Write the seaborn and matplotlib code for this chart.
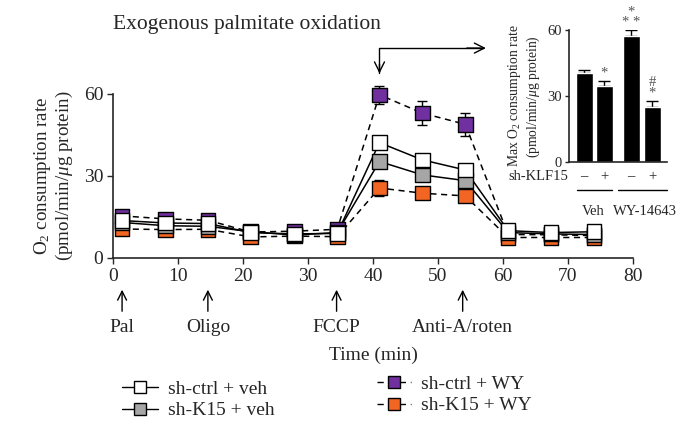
import numpy as np
import pandas as pd
import matplotlib
matplotlib.use('Agg')
import matplotlib.pyplot as plt
from matplotlib.lines import Line2D
import seaborn as sns

# time points (min) and O2 consumption rate per group
time = [1.4, 8.1, 14.6, 21.2, 27.9, 34.5, 41.0, 47.6, 54.2, 60.8, 67.4, 74.0]
ctrl_veh = [13.7, 12.8, 12.6, 9.3, 8.8, 9.0, 42.2, 35.9, 32.2, 10.0, 9.3, 9.6]
k15_veh = [13.0, 11.8, 11.6, 9.6, 8.4, 9.3, 35.3, 30.4, 28.3, 9.3, 8.8, 8.6]
ctrl_wy = [15.4, 14.3, 13.8, 9.5, 9.8, 10.5, 59.7, 53.0, 48.9, 8.6, 8.5, 8.2]
k15_wy = [10.6, 10.4, 10.5, 7.7, 8.0, 7.8, 25.6, 23.7, 22.7, 7.5, 7.5, 7.5]
err_ctrl_veh = [1.2, 1.0, 1.0, 0.8, 0.8, 0.8, 1.5, 1.5, 1.5, 0.8, 0.8, 0.8]
err_k15_veh = [1.2, 1.0, 1.0, 0.8, 0.8, 0.8, 2.0, 1.8, 1.8, 0.8, 0.8, 0.8]
err_ctrl_wy = [1.2, 1.0, 1.0, 0.8, 0.8, 0.8, 3.3, 4.3, 4.2, 0.8, 0.8, 0.8]
err_k15_wy = [1.2, 1.0, 1.0, 0.8, 0.8, 0.8, 2.9, 2.2, 2.0, 0.8, 0.8, 0.8]

groups = ['sh-ctrl + veh', 'sh-K15 + veh', 'sh-ctrl + WY', 'sh-K15 + WY']
colors = {'sh-ctrl + veh': '#ffffff', 'sh-K15 + veh': '#a6a6a6',
          'sh-ctrl + WY': '#7030a0', 'sh-K15 + WY': '#f26522'}
draw_order = ['sh-ctrl + WY', 'sh-K15 + WY', 'sh-K15 + veh', 'sh-ctrl + veh']

# injections
inj_time = [1.4, 14.6, 34.4, 53.8]
inj_label = ['Pal', 'Oligo', 'FCCP', 'Anti-A/roten']

# inset: max O2 consumption
bar_pos = [0, 1, 2.35, 3.4]
bar_vals = [40.4, 34.7, 57.4, 25.0]
bar_err = [1.5, 2.2, 2.7, 3.0]
bar_signs = ['\u2013', '+', '\u2013', '+']
bar_marks = ['', '*', '*\n* *', '#\n*']

vals = {'sh-ctrl + veh': ctrl_veh, 'sh-K15 + veh': k15_veh,
        'sh-ctrl + WY': ctrl_wy, 'sh-K15 + WY': k15_wy}
errs = {'sh-ctrl + veh': err_ctrl_veh, 'sh-K15 + veh': err_k15_veh,
        'sh-ctrl + WY': err_ctrl_wy, 'sh-K15 + WY': err_k15_wy}

df = pd.concat([pd.DataFrame({'time': time, 'rate': vals[g], 'err': errs[g], 'group': g})
                for g in draw_order], ignore_index=True)

sns.set_style('ticks')
plt.rcParams['font.family'] = ['Liberation Serif', 'DejaVu Serif']
plt.rcParams['mathtext.fontset'] = 'custom'
plt.rcParams['mathtext.rm'] = 'Liberation Serif'
plt.rcParams['mathtext.it'] = 'Liberation Serif:italic'
plt.rcParams['mathtext.bf'] = 'Liberation Serif:bold'

fs = 14

fig = plt.figure(figsize=(6.86, 4.38), dpi=100)
ax = fig.add_axes([0.1647, 0.4110, 0.758, 0.3744])

dash_map = {'sh-ctrl + veh': '', 'sh-K15 + veh': '',
            'sh-ctrl + WY': (4, 3), 'sh-K15 + WY': (4, 3)}
sns.lineplot(data=df, x='time', y='rate', style='group', style_order=draw_order,
             dashes=dash_map, color='black', linewidth=1.1, legend=False, ax=ax,
             zorder=2, clip_on=False)
for g in draw_order:
    sub = df[df['group'] == g]
    ax.errorbar(sub['time'], sub['rate'], yerr=sub['err'], fmt='none',
                ecolor='black', elinewidth=1, capsize=3.5, capthick=1, zorder=2,
                clip_on=False)
sns.scatterplot(data=df, x='time', y='rate', hue='group', hue_order=draw_order,
                palette=colors, marker='s', s=110, edgecolor='black', linewidth=1,
                legend=False, ax=ax, zorder=3, clip_on=False)

ax.set_xlim(0, 80)
ax.set_ylim(0, 60)
ax.set_xticks(range(0, 81, 10))
ax.set_yticks([0, 30, 60])
ax.set_xlabel('')
ax.set_ylabel('O$_2$ consumption rate\n(pmol/min/$\\mu$g protein)', fontsize=13.7,
              linespacing=1.1, labelpad=6)
ax.tick_params(direction='out', length=4, width=1, labelsize=fs, pad=3)
sns.despine(ax=ax)
for s in ['left', 'bottom']:
    ax.spines[s].set_linewidth(1.2)

# injection arrows
for t, lab in zip(inj_time, inj_label):
    ax.annotate('', xy=(t, -10.6), xytext=(t, -20.5), xycoords='data',
                arrowprops=dict(arrowstyle='->', lw=1, color='black',
                                mutation_scale=16), annotation_clip=False)
    ax.text(t, -25.3, lab, ha='center', va='center', fontsize=fs)
ax.text(40, -35.8, 'Time (min)', ha='center', va='center', fontsize=fs)

# arrow pointing from FCCP peak to the inset
ax.plot([41.0, 41.0, 57.0], [67.5, 76.8, 76.8], color='black', lw=1, clip_on=False)
ax.annotate('', xy=(41.0, 66.5), xytext=(41.0, 72), arrowprops=dict(
    arrowstyle='->', lw=1, color='black', mutation_scale=18), annotation_clip=False)
ax.annotate('', xy=(57.8, 76.8), xytext=(54, 76.8), arrowprops=dict(
    arrowstyle='->', lw=1, color='black', mutation_scale=18), annotation_clip=False)

fig.text(113 / 686, 1 - 25 / 438, 'Exogenous palmitate oxidation', fontsize=15.5,
         ha='left', va='center')

# legend in two columns
def handle(g):
    if 'WY' in g:
        return Line2D([], [], color='black', lw=1, linestyle=(0, (4.5, 3.5)),
                      marker='s', markersize=9, markerfacecolor=colors[g],
                      markeredgecolor='black')
    return Line2D([], [], color='black', lw=1, linestyle='-',
                  marker='s', markersize=9, markerfacecolor=colors[g],
                  markeredgecolor='black')

fig.legend(handles=[handle(g) for g in groups[:2]], labels=groups[:2],
           loc='center left', bbox_to_anchor=(122 / 686, 1 - 400 / 438),
           frameon=False, fontsize=fs, handlelength=1.85, handletextpad=0.5,
           labelspacing=0.18, borderpad=0, borderaxespad=0)
fig.legend(handles=[handle(g) for g in groups[2:]], labels=groups[2:],
           loc='center left', bbox_to_anchor=(377 / 686, 1 - 395 / 438),
           frameon=False, fontsize=fs, handlelength=1.75, handletextpad=0.5,
           labelspacing=0.18, borderpad=0, borderaxespad=0)

# inset bar chart
ins = fig.add_axes([569 / 686, 1 - 162.3 / 438, 98 / 686, 132.3 / 438])
ins.bar(bar_pos, bar_vals, width=0.85, color='black', zorder=2)
ins.errorbar(bar_pos, bar_vals, yerr=[np.zeros(4), bar_err], fmt='none',
             ecolor='black', elinewidth=1, capsize=4, capthick=1, zorder=1)
ins.set_xlim(-0.75, 4.15)
ins.set_ylim(0, 60)
ins.set_yticks([0, 30, 60])
ins.set_xticks([])
ins.tick_params(axis='y', direction='out', length=3, width=1, labelsize=10.5, pad=2)
sns.despine(ax=ins)
for s in ['left', 'bottom']:
    ins.spines[s].set_linewidth(1.2)
ins.set_ylabel('Max O$_2$ consumption rate\n(pmol/min/$\\mu$g protein)', fontsize=9.8,
               linespacing=1.1, labelpad=4)
for x, v, e, m in zip(bar_pos, bar_vals, bar_err, bar_marks):
    if m:
        ins.text(x, v + e + 0.5, m, ha='center', va='bottom', fontsize=10.5,
                 color='#555555', linespacing=0.75)
for x, sgn in zip(bar_pos, bar_signs):
    ins.text(x, -6.3, sgn, ha='center', va='center', fontsize=10.5)
ins.text(-0.8, -6.3, 'sh-KLF15', ha='right', va='center', fontsize=10.5)
ins.plot([-0.35, 1.4], [-12.7, -12.7], color='black', lw=1, clip_on=False)
ins.plot([1.7, 4.15], [-12.7, -12.7], color='black', lw=1, clip_on=False)
ins.text(0.45, -22.4, 'Veh', ha='center', va='center', fontsize=10.5)
ins.text(3.05, -22.4, 'WY-14643', ha='center', va='center', fontsize=10.5)

fig.savefig('out.png', dpi=100)
